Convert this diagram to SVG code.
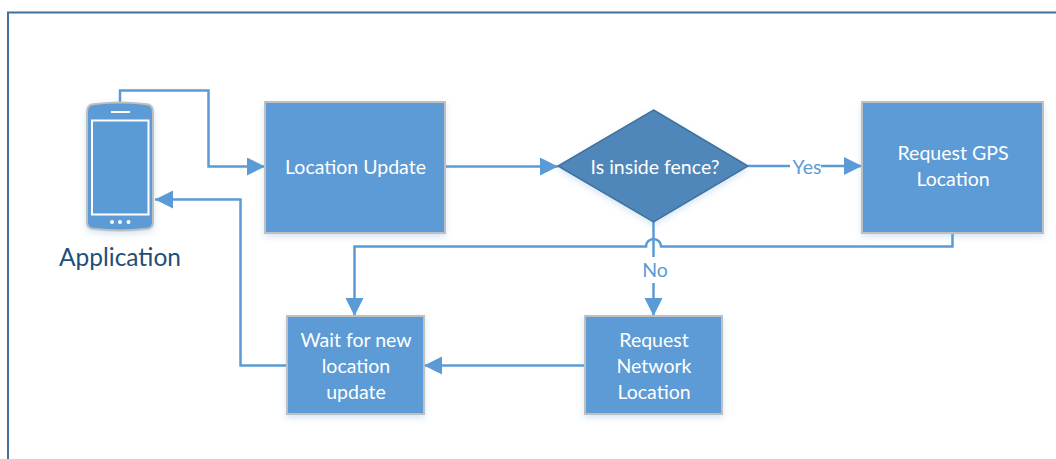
<svg xmlns="http://www.w3.org/2000/svg" width="1056" height="459" viewBox="0 0 1056 459">
<style>
text{font-family:Lato,"Open Sans",sans-serif;font-size:19.500px;text-anchor:middle}
.w{fill:#fff}
.l{fill:#5b9bd5}
.b{fill:#5b9bd5;stroke:#bfbfbf;stroke-width:2}
.c{fill:none;stroke:#5b9bd5;stroke-width:2.5}
</style>
<defs>
<marker id="a" markerUnits="userSpaceOnUse" markerWidth="20" markerHeight="20" refX="18" refY="9" orient="auto"><path d="M0 0L18 9L0 18Z" fill="#5b9bd5"/></marker>
<filter id="s" x="-10%" y="-10%" width="120%" height="125%"><feDropShadow dx="0" dy="3" stdDeviation="3" flood-color="#5b9bd5" flood-opacity="0.25"/></filter>
</defs>
<rect width="1056" height="459" fill="#fff"/>
<path d="M8 459V12.500H1056" fill="none" stroke="#41719c" stroke-width="2"/>
<g id="connectors">
<path class="c" d="M120 103V90.500H208.500V166.500H265" marker-end="url(#a)"/>
<path class="c" d="M445 166.500H558" marker-end="url(#a)"/>
<path class="c" d="M748 166H862" marker-end="url(#a)"/>
<path class="c" d="M653.500 222V316" marker-end="url(#a)"/>
<path class="c" d="M952.500 233V246.500H661a7.500 7.500 0 0 0-15 0H354.500V316" marker-end="url(#a)"/>
<path class="c" d="M585 365.500H424" marker-end="url(#a)"/>
<path class="c" d="M287 365.500H240.500V199.500H155" marker-end="url(#a)"/>
</g>
<g id="application">
<path d="M87 112Q87 104 95 104Q120 101 145 104Q153 104 153 112V222Q153 229 145 229Q120 232 95 229Q87 229 87 222Z" fill="#5b9bd5" stroke="#bfbfbf" stroke-width="2" filter="url(#s)"/>
<rect x="92" y="120.500" width="56.500" height="94" fill="#5b9bd5" stroke="#fff" stroke-width="2"/>
<rect x="111" y="111" width="19" height="2" fill="#fff"/>
<circle cx="112" cy="222" r="2" fill="#fff"/><circle cx="120" cy="222" r="2" fill="#fff"/><circle cx="128.500" cy="222" r="2" fill="#fff"/>
<text x="120" y="266" fill="#1f4e79" style="font-size:24.500px">Application</text>
</g>
<g id="location-update">
<rect class="b" x="265" y="102" width="180" height="131" filter="url(#s)"/>
<text class="w" x="355.500" y="173.500">Location Update</text>
</g>
<g id="inside-fence">
<path d="M653.500 110L748 166L653.500 222L558 166Z" fill="#4f87ba" stroke="#41719c" stroke-width="1.500" filter="url(#s)"/>
<text class="w" x="655" y="173.500">Is inside fence?</text>
</g>
<g id="request-gps">
<rect class="b" x="862" y="102" width="181" height="131" filter="url(#s)"/>
<text class="w" x="953" y="160">Request GPS</text>
<text class="w" x="953" y="186">Location</text>
</g>
<g id="request-network">
<rect class="b" x="585" y="316" width="137" height="98" filter="url(#s)"/>
<text class="w" x="654" y="347">Request</text>
<text class="w" x="654" y="373">Network</text>
<text class="w" x="654" y="399">Location</text>
</g>
<g id="wait">
<rect class="b" x="287" y="316" width="137" height="98" filter="url(#s)"/>
<text class="w" x="356" y="347">Wait for new</text>
<text class="w" x="356" y="373">location</text>
<text class="w" x="356" y="399">update</text>
</g>
<g id="labels">
<rect x="790" y="155" width="31" height="24" fill="#fff"/>
<text class="l" x="807" y="173.500">Yes</text>
<rect x="640" y="257" width="30" height="26" fill="#fff"/>
<text class="l" x="655" y="277">No</text>
</g>
</svg>
